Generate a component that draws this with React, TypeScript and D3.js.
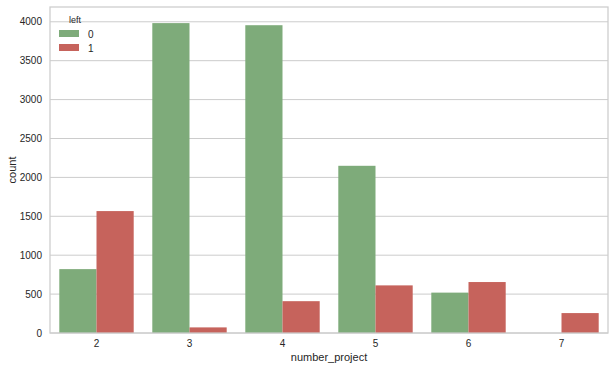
import React, { useRef, useEffect } from 'react';
import * as d3 from 'd3';

const categories = ['2', '3', '4', '5', '6', '7'];
const hueLevels = ['0', '1'];
const stayed = [821, 3983, 3956, 2149, 519, 0];
const leftCompany = [1567, 72, 409, 612, 655, 256];
const yTicks = [0, 500, 1000, 1500, 2000, 2500, 3000, 3500, 4000];

const colors = ['#7eab7a', '#c6635c'];

export default function App() {
    const ref = useRef<SVGSVGElement>(null);

    useEffect(() => {
        const width = 615;
        const height = 370;
        const margin = { top: 7, right: 7, bottom: 37, left: 50 };
        const font = 'Liberation Sans, Arial, sans-serif';

        const svg = d3.select(ref.current);
        svg.selectAll('*').remove();

        const x = d3.scaleBand()
            .domain(categories)
            .range([margin.left, width - margin.right])
            .paddingInner(0.2)
            .paddingOuter(0.1);

        const xHue = d3.scaleBand()
            .domain(hueLevels)
            .range([0, x.bandwidth()]);

        const y = d3.scaleLinear()
            .domain([0, 4190])
            .range([height - margin.bottom, margin.top]);

        // gridlines
        svg.append('g')
            .selectAll('line')
            .data(yTicks)
            .join('line')
            .attr('x1', margin.left)
            .attr('x2', width - margin.right)
            .attr('y1', d => y(d))
            .attr('y2', d => y(d))
            .attr('stroke', '#cccccc')
            .attr('stroke-width', 1);

        // bars
        const series = [stayed, leftCompany];
        series.forEach((vals, si) => {
            svg.append('g')
                .selectAll('rect')
                .data(vals)
                .join('rect')
                .attr('x', (d, i) => (x(categories[i]) as number) + (xHue(hueLevels[si]) as number))
                .attr('width', xHue.bandwidth())
                .attr('y', d => y(d))
                .attr('height', d => y(0) - y(d))
                .attr('fill', colors[si]);
        });

        // spines
        svg.append('rect')
            .attr('x', margin.left)
            .attr('y', margin.top)
            .attr('width', width - margin.left - margin.right)
            .attr('height', height - margin.top - margin.bottom)
            .attr('fill', 'none')
            .attr('stroke', '#cccccc')
            .attr('stroke-width', 1.25);

        // y ticks
        svg.append('g')
            .selectAll('text')
            .data(yTicks)
            .join('text')
            .attr('x', margin.left - 8)
            .attr('y', d => y(d))
            .attr('dy', '0.35em')
            .attr('text-anchor', 'end')
            .attr('font-family', font)
            .attr('font-size', 10)
            .attr('fill', '#262626')
            .text(d => d);

        // x ticks
        svg.append('g')
            .selectAll('text')
            .data(categories)
            .join('text')
            .attr('x', d => (x(d) as number) + x.bandwidth() / 2)
            .attr('y', height - margin.bottom + 14)
            .attr('text-anchor', 'middle')
            .attr('font-family', font)
            .attr('font-size', 10)
            .attr('fill', '#262626')
            .text(d => d);

        // axis labels
        svg.append('text')
            .attr('x', (margin.left + width - margin.right) / 2)
            .attr('y', height - 9)
            .attr('text-anchor', 'middle')
            .attr('font-family', font)
            .attr('font-size', 11)
            .attr('fill', '#262626')
            .text('number_project');

        svg.append('text')
            .attr('transform', `translate(16, ${(margin.top + height - margin.bottom) / 2}) rotate(-90)`)
            .attr('text-anchor', 'middle')
            .attr('font-family', font)
            .attr('font-size', 11)
            .attr('fill', '#262626')
            .text('count');

        // legend
        const legend = svg.append('g');
        legend.append('text')
            .attr('x', 75)
            .attr('y', 23)
            .attr('text-anchor', 'middle')
            .attr('font-family', font)
            .attr('font-size', 9)
            .attr('fill', '#262626')
            .text('left');
        hueLevels.forEach((lvl, i) => {
            legend.append('rect')
                .attr('x', 59)
                .attr('y', 30 + i * 14)
                .attr('width', 20)
                .attr('height', 7)
                .attr('fill', colors[i]);
            legend.append('text')
                .attr('x', 88)
                .attr('y', 34 + i * 14)
                .attr('dy', '0.35em')
                .attr('font-family', font)
                .attr('font-size', 10)
                .attr('fill', '#262626')
                .text(lvl);
        });
    }, []);

    return (
        <svg ref={ref} width={615} height={370}
            style={{ position: 'absolute', left: 0, top: 0, background: '#fff' }} />
    );
}
